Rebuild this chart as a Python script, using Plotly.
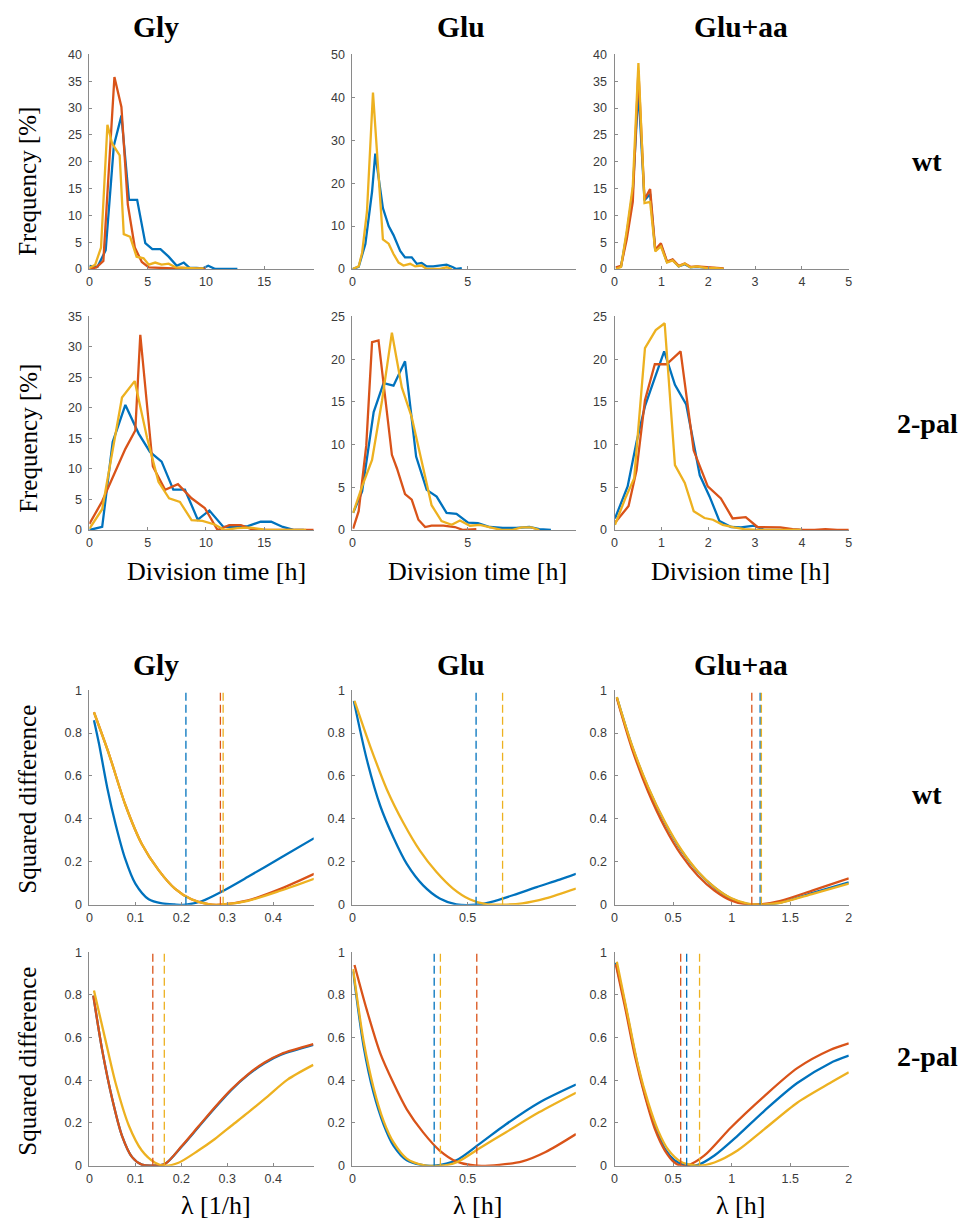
import plotly.graph_objects as go

W, H = 961, 1232
BLUE, ORANGE, YELLOW = "#0072BD", "#D95319", "#EDB120"

# ---------------- Histogram data (Division time [h], Frequency [%]) ----------------
# Gly wt
gly_wt_blue_x = [0, 0.7, 1.4, 2.1, 2.75, 3.4, 4.1, 4.8, 5.4, 6.1, 6.8, 7.5, 8.1, 8.6, 9.2, 9.7, 10.2, 10.8, 11.5, 12.1, 12.7]
gly_wt_blue_y = [0.6, 0.4, 3.5, 23, 28.6, 12.9, 12.9, 4.8, 3.7, 3.7, 2.3, 0.6, 1.2, 0.2, 0.2, 0.1, 0.6, 0, 0, 0, 0]
gly_wt_orange_x = [0, 0.6, 1.2, 2.15, 2.75, 3.3, 3.9, 4.5, 5.1, 5.8, 6.5, 7.2, 7.9, 8.6, 9.3, 10.0]
gly_wt_orange_y = [0, 0.3, 1.5, 35.8, 30.2, 12, 4, 1.3, 0.3, 0.2, 0.1, 0.1, 0.2, 0.1, 0, 0]
gly_wt_yellow_x = [0, 0.5, 1.0, 1.55, 1.95, 2.6, 2.95, 3.5, 4.05, 4.65, 5.1, 5.65, 6.2, 6.8, 7.4, 8.0, 8.6, 9.2, 9.8]
gly_wt_yellow_y = [0.2, 0.8, 4, 26.9, 23.4, 21.2, 6.5, 6.0, 2.3, 2.0, 0.8, 1.2, 0.8, 1.0, 0.3, 0.2, 0.2, 0.1, 0.1]
# Glu wt
glu_wt_blue_x = [0, 0.27, 0.56, 0.85, 0.99, 1.32, 1.57, 1.78, 2.07, 2.28, 2.57, 2.79, 3.0, 3.22, 3.5, 3.79, 4.08, 4.36, 4.5, 4.74]
glu_wt_blue_y = [0, 0.5, 5.8, 18, 26.9, 14.2, 10, 7.9, 4.2, 2.7, 2.7, 1.2, 1.4, 0.6, 0.6, 0.8, 1.0, 0.4, 0, 0.2]
glu_wt_yellow_x = [0, 0.27, 0.42, 0.63, 0.89, 1.32, 1.57, 1.78, 2.0, 2.21, 2.5, 2.72, 3.0, 3.22, 3.8, 4.08, 4.3]
glu_wt_yellow_y = [0, 0.6, 3.8, 13.4, 41.1, 6.9, 5.9, 3.5, 1.5, 0.8, 1.2, 0.6, 0.8, 0, 0, 0.4, 0]
# Glu+aa wt
glaa_wt_x = [0.03, 0.14, 0.26, 0.39, 0.51, 0.64, 0.76, 0.87, 0.99, 1.12, 1.24, 1.37, 1.5, 1.62, 1.76, 1.88, 2.0, 2.12, 2.24, 2.33]
glaa_wt_blue_y = [0.2, 0.5, 6.5, 14.5, 33.5, 12.8, 14.0, 3.4, 4.5, 1.3, 1.7, 0.5, 0.9, 0.3, 0.4, 0.3, 0.1, 0.1, 0, 0]
glaa_wt_orange_y = [0.3, 0.6, 5.5, 12.5, 37.0, 13.0, 14.9, 3.6, 4.8, 1.4, 1.8, 0.6, 1.0, 0.4, 0.5, 0.4, 0.3, 0.2, 0.1, 0.1]
glaa_wt_yellow_y = [0, 0.4, 7.1, 15.4, 38.4, 12.3, 12.5, 3.3, 4.2, 1.2, 1.6, 0.5, 1.0, 0.3, 0.5, 0.3, 0.1, 0.2, 0.1, 0]
# Gly 2-pal
gly_pal_blue_x = [0, 1.1, 2.0, 3.09, 4.23, 5.2, 6.2, 7.2, 8.2, 9.3, 10.3, 11.5, 12.6, 13.6, 14.7, 15.6, 16.6, 17.6, 18.4]
gly_pal_blue_y = [0, 0.5, 14.4, 20.5, 15.8, 12.8, 11.2, 6.6, 6.6, 1.7, 3.2, 0.5, 0.5, 0.65, 1.35, 1.35, 0.5, 0, 0]
gly_pal_orange_x = [0, 1.1, 3.09, 3.94, 4.37, 5.45, 6.5, 7.6, 8.77, 9.9, 11.0, 12.0, 13.0, 14.1, 15.2, 16.3, 17.3, 18.3, 19.25]
gly_pal_orange_y = [1.0, 4.7, 13.3, 16.3, 32, 10.4, 6.6, 7.5, 5.2, 3.6, 0, 0.8, 0.8, 0, 0, 0, 0, 0, 0]
gly_pal_yellow_x = [0, 1.1, 2.8, 3.89, 4.94, 5.93, 6.84, 7.77, 8.77, 9.7, 10.75, 11.6, 12.7, 13.8, 15.2, 16.5, 17.6, 18.6]
gly_pal_yellow_y = [0.2, 3.4, 21.7, 24.4, 15.2, 7.9, 5.2, 4.6, 1.6, 1.5, 0.9, 0, 0.3, 0.4, 0, 0, 0, 0]
# Glu 2-pal
glu_pal_blue_x = [0.03, 0.42, 0.92, 1.35, 1.78, 2.28, 2.76, 3.22, 3.65, 4.08, 4.51, 5.01, 5.44, 5.95, 6.52, 7.1, 7.67, 8.1, 8.6]
glu_pal_blue_y = [2.0, 4.5, 13.8, 17.2, 16.9, 19.75, 8.6, 4.7, 3.9, 2.0, 1.9, 0.85, 0.8, 0.35, 0.25, 0.25, 0.35, 0.1, 0]
glu_pal_orange_x = [0.03, 0.27, 0.6, 0.85, 1.13, 1.71, 1.93, 2.28, 2.57, 2.86, 3.15, 3.43, 3.94, 4.44, 4.8, 5.37]
glu_pal_orange_y = [0.15, 2.2, 9.9, 22, 22.2, 8.8, 7.2, 4.2, 3.55, 1.2, 0.35, 0.5, 0.5, 0.35, 0, 0.1]
glu_pal_yellow_x = [0.03, 0.42, 0.85, 1.28, 1.71, 2.14, 2.57, 3.0, 3.43, 3.86, 4.3, 4.66, 5.09, 5.52, 5.95, 6.45, 6.9, 7.33, 7.76, 8.1]
glu_pal_yellow_y = [2.0, 5.1, 8.2, 15.1, 23.1, 16.7, 13.2, 8.0, 2.9, 1.04, 0.6, 1.1, 0.5, 0.6, 0.35, 0, 0, 0.3, 0.3, 0]
# Glu+aa 2-pal
glaa_pal_blue_x = [0.01, 0.28, 0.47, 0.65, 0.86, 1.06, 1.29, 1.53, 1.82, 2.03, 2.24, 2.49, 2.7, 2.98, 3.2, 3.46, 3.7, 3.95]
glaa_pal_blue_y = [1.35, 5.1, 10.3, 14.5, 17.8, 20.9, 17, 14.7, 6.4, 3.9, 1.04, 0.35, 0.3, 0.5, 0, 0, 0, 0]
glaa_pal_orange_x = [0.01, 0.3, 0.47, 0.65, 0.86, 1.11, 1.41, 1.69, 1.99, 2.27, 2.52, 2.8, 3.05, 3.3, 3.54, 3.8, 4.03, 4.27, 4.5, 4.75, 5.0]
glaa_pal_orange_y = [0.85, 2.8, 7.0, 15.2, 19.4, 19.4, 20.9, 9.3, 5.1, 3.7, 1.35, 1.5, 0.35, 0.35, 0.3, 0.1, 0, 0, 0.1, 0, 0]
glaa_pal_yellow_x = [0.01, 0.23, 0.42, 0.65, 0.88, 1.07, 1.29, 1.5, 1.69, 1.92, 2.1, 2.31, 2.55, 2.77, 3.05, 3.3, 3.55, 3.8, 4.0]
glaa_pal_yellow_y = [0.6, 3.7, 6.05, 21.3, 23.4, 24.2, 7.6, 5.5, 2.2, 1.4, 1.2, 0.6, 0.3, 0.1, 0, 0, 0, 0, 0]

# ---------------- Squared difference curves (lambda, squared difference) ----------------
# Gly wt
sq_gly_wt_blue_x = [0.01, 0.021, 0.039, 0.057, 0.078, 0.1, 0.129, 0.158, 0.185, 0.21, 0.244, 0.287, 0.345, 0.417, 0.489]
sq_gly_wt_blue_y = [0.86, 0.75, 0.544, 0.375, 0.213, 0.098, 0.025, 0.006, 0.001, 0.0, 0.016, 0.06, 0.13, 0.22, 0.31]
sq_gly_wt_oy_x = [0.01, 0.043, 0.078, 0.114, 0.151, 0.186, 0.222, 0.259, 0.285, 0.345, 0.417, 0.489]
sq_gly_wt_orange_y = [0.897, 0.70, 0.467, 0.283, 0.16, 0.075, 0.025, 0.002, 0.0, 0.02, 0.075, 0.144]
sq_gly_wt_yellow_y = [0.897, 0.70, 0.467, 0.283, 0.16, 0.075, 0.025, 0.002, 0.0, 0.018, 0.066, 0.121]
# Glu wt
sq_glu_wt_blue_x = [0.006, 0.063, 0.121, 0.178, 0.236, 0.307, 0.379, 0.451, 0.537, 0.6, 0.7, 0.8, 0.9, 0.971]
sq_glu_wt_blue_y = [0.95, 0.674, 0.46, 0.313, 0.19, 0.09, 0.029, 0.002, 0.0, 0.012, 0.045, 0.082, 0.117, 0.144]
sq_glu_wt_yellow_x = [0.009, 0.078, 0.15, 0.221, 0.293, 0.365, 0.437, 0.509, 0.58, 0.652, 0.738, 0.839, 0.971]
sq_glu_wt_yellow_y = [0.95, 0.736, 0.536, 0.382, 0.252, 0.152, 0.075, 0.025, 0.002, 0.0, 0.006, 0.029, 0.075]
# Glu+aa wt
sq_glaa_wt_x = [0.02, 0.147, 0.288, 0.43, 0.57, 0.712, 0.853, 0.994, 1.136, 1.25, 1.418, 1.7, 2.0]
sq_glaa_wt_blue_y = [0.966, 0.743, 0.544, 0.382, 0.252, 0.152, 0.08, 0.029, 0.004, 0.0, 0.01, 0.056, 0.104]
sq_glaa_wt_orange_y = [0.962, 0.73, 0.525, 0.36, 0.232, 0.135, 0.066, 0.02, 0.001, 0.002, 0.018, 0.068, 0.123]
sq_glaa_wt_yellow_y = [0.968, 0.746, 0.548, 0.386, 0.256, 0.155, 0.082, 0.031, 0.005, 0.0, 0.009, 0.052, 0.098]
# Gly 2-pal
sq_gly_pal_bo_x = [0.0086, 0.028, 0.05, 0.071, 0.093, 0.114, 0.138, 0.165, 0.201, 0.237, 0.273, 0.309, 0.345, 0.381, 0.417, 0.487]
sq_gly_pal_blue_y = [0.796, 0.54, 0.31, 0.14, 0.04, 0.005, 0.0, 0.009, 0.09, 0.18, 0.27, 0.355, 0.425, 0.48, 0.52, 0.566]
sq_gly_pal_orange_y = [0.796, 0.54, 0.31, 0.14, 0.04, 0.005, 0.0, 0.009, 0.092, 0.183, 0.274, 0.358, 0.428, 0.483, 0.523, 0.569]
sq_gly_pal_yellow_x = [0.01, 0.035, 0.057, 0.086, 0.114, 0.143, 0.163, 0.194, 0.237, 0.273, 0.309, 0.345, 0.388, 0.431, 0.487]
sq_gly_pal_yellow_y = [0.82, 0.588, 0.387, 0.187, 0.071, 0.014, 0.0, 0.014, 0.071, 0.125, 0.187, 0.248, 0.325, 0.403, 0.472]
# Glu 2-pal
sq_glu_pal_blue_x = [0.003, 0.049, 0.092, 0.135, 0.178, 0.236, 0.307, 0.355, 0.451, 0.552, 0.667, 0.81, 0.971]
sq_glu_pal_blue_y = [0.91, 0.556, 0.34, 0.194, 0.094, 0.025, 0.002, 0.0, 0.025, 0.102, 0.194, 0.295, 0.38]
sq_glu_pal_orange_x = [0.009, 0.063, 0.121, 0.178, 0.236, 0.307, 0.379, 0.451, 0.54, 0.638, 0.738, 0.839, 0.971]
sq_glu_pal_orange_y = [0.94, 0.727, 0.526, 0.387, 0.264, 0.156, 0.071, 0.02, 0.0, 0.004, 0.02, 0.064, 0.148]
sq_glu_pal_yellow_x = [0.003, 0.049, 0.092, 0.135, 0.178, 0.236, 0.307, 0.382, 0.451, 0.552, 0.667, 0.81, 0.971]
sq_glu_pal_yellow_y = [0.92, 0.58, 0.364, 0.21, 0.11, 0.033, 0.003, 0.0, 0.015, 0.082, 0.157, 0.25, 0.342]
# Glu+aa 2-pal
sq_glaa_pal_orange_x = [0.011, 0.09, 0.175, 0.26, 0.345, 0.43, 0.514, 0.565, 0.627, 0.768, 0.994, 1.277, 1.56, 1.84, 2.0]
sq_glaa_pal_orange_y = [0.943, 0.742, 0.511, 0.325, 0.171, 0.071, 0.014, 0.0, 0.002, 0.048, 0.179, 0.325, 0.457, 0.542, 0.573]
sq_glaa_pal_blue_x = [0.011, 0.09, 0.175, 0.26, 0.345, 0.43, 0.514, 0.6, 0.616, 0.712, 0.853, 1.05, 1.277, 1.56, 1.84, 2.0]
sq_glaa_pal_blue_y = [0.95, 0.757, 0.526, 0.333, 0.187, 0.079, 0.025, 0.002, 0.0, 0.004, 0.048, 0.14, 0.256, 0.387, 0.48, 0.515]
sq_glaa_pal_yellow_x = [0.02, 0.119, 0.203, 0.288, 0.373, 0.458, 0.57, 0.684, 0.726, 0.853, 1.05, 1.277, 1.56, 1.84, 2.0]
sq_glaa_pal_yellow_y = [0.955, 0.688, 0.464, 0.295, 0.163, 0.075, 0.017, 0.001, 0.0, 0.015, 0.071, 0.17, 0.295, 0.387, 0.437]

# Fitted lambda (dashed vertical lines): (value, colour) per panel
fit_gly_wt = [(0.21, BLUE), (0.285, ORANGE), (0.291, YELLOW)]
fit_glu_wt = [(0.537, BLUE), (0.652, YELLOW)]
fit_glaa_wt = [(1.172, ORANGE), (1.243, BLUE), (1.254, YELLOW)]
fit_gly_pal = [(0.138, ORANGE), (0.163, YELLOW)]
fit_glu_pal = [(0.355, BLUE), (0.382, YELLOW), (0.54, ORANGE)]
fit_glaa_pal = [(0.565, ORANGE), (0.616, BLUE), (0.726, YELLOW)]

col_titles = ["Gly", "Glu", "Glu+aa"]
row_labels = ["wt", "2-pal"]

# ---------------- Layout geometry (pixels) ----------------
COLS = [(87, 313), (352, 577), (616, 852)]
ROWS = [(48, 265), (313, 529), (691, 908), (956, 1172)]
TITLE_X = [154, 461, 743]
XLABEL_X = [215, 478, 743]

hist_xrange = [[0, 19.25], [0, 9.68], [0, 5]]
hist_xticks = [[0, 5, 10, 15], [0, 5], [0, 1, 2, 3, 4, 5]]
hist_yrange = [[[0, 40], [0, 50], [0, 40]], [[0, 35], [0, 25], [0, 25]]]
hist_ydtick = [[5, 10, 5], [5, 5, 5]]
sq_xrange = [[0, 0.488], [0, 0.97], [0, 2]]
sq_xticks = [[0, 0.1, 0.2, 0.3, 0.4], [0, 0.5], [0, 0.5, 1, 1.5, 2]]

fig = go.Figure()
layout = {}
AXC = "#8a8a8a"
TICKFONT = dict(family="Liberation Sans, Arial", size=12.5, color="#3a3a3a")


def add_axes(idx, r, c, xr, xticks, yr, ydtick):
    x0, x1 = COLS[c]
    y0, y1 = ROWS[r]
    sfx = "" if idx == 1 else str(idx)
    layout["xaxis" + sfx] = dict(
        domain=[x0 / W, x1 / W], range=xr, anchor="y" + sfx,
        tickmode="array", tickvals=xticks, ticks="inside", ticklen=3, tickcolor=AXC,
        showline=True, linecolor=AXC, linewidth=1, showgrid=False, zeroline=False,
        tickfont=TICKFONT, fixedrange=True, ticklabelstandoff=1,
    )
    layout["yaxis" + sfx] = dict(
        domain=[1 - y1 / H, 1 - y0 / H], range=yr, anchor="x" + sfx,
        dtick=ydtick, tick0=0, ticks="inside", ticklen=3, tickcolor=AXC,
        showline=True, linecolor=AXC, linewidth=1, showgrid=False, zeroline=False,
        tickfont=TICKFONT, fixedrange=True, ticklabelstandoff=4,
    )
    return "x" + sfx, "y" + sfx


def line(xa, ya, xs, ys, color, spline=False, width=2.3, dash=None):
    fig.add_trace(go.Scatter(
        x=xs, y=ys, mode="lines", xaxis=xa, yaxis=ya, showlegend=False,
        line=dict(color=color, width=width, shape="spline" if spline else "linear",
                  smoothing=0.8, dash=dash),
        hoverinfo="skip"))


hist_panels = [
    [[(gly_wt_blue_x, gly_wt_blue_y, BLUE), (gly_wt_orange_x, gly_wt_orange_y, ORANGE), (gly_wt_yellow_x, gly_wt_yellow_y, YELLOW)],
     [(glu_wt_blue_x, glu_wt_blue_y, BLUE), (glu_wt_yellow_x, glu_wt_yellow_y, YELLOW)],
     [(glaa_wt_x, glaa_wt_blue_y, BLUE), (glaa_wt_x, glaa_wt_orange_y, ORANGE), (glaa_wt_x, glaa_wt_yellow_y, YELLOW)]],
    [[(gly_pal_blue_x, gly_pal_blue_y, BLUE), (gly_pal_orange_x, gly_pal_orange_y, ORANGE), (gly_pal_yellow_x, gly_pal_yellow_y, YELLOW)],
     [(glu_pal_blue_x, glu_pal_blue_y, BLUE), (glu_pal_orange_x, glu_pal_orange_y, ORANGE), (glu_pal_yellow_x, glu_pal_yellow_y, YELLOW)],
     [(glaa_pal_blue_x, glaa_pal_blue_y, BLUE), (glaa_pal_orange_x, glaa_pal_orange_y, ORANGE), (glaa_pal_yellow_x, glaa_pal_yellow_y, YELLOW)]],
]
sq_panels = [
    [[(sq_gly_wt_blue_x, sq_gly_wt_blue_y, BLUE), (sq_gly_wt_oy_x, sq_gly_wt_orange_y, ORANGE), (sq_gly_wt_oy_x, sq_gly_wt_yellow_y, YELLOW)],
     [(sq_glu_wt_blue_x, sq_glu_wt_blue_y, BLUE), (sq_glu_wt_yellow_x, sq_glu_wt_yellow_y, YELLOW)],
     [(sq_glaa_wt_x, sq_glaa_wt_blue_y, BLUE), (sq_glaa_wt_x, sq_glaa_wt_orange_y, ORANGE), (sq_glaa_wt_x, sq_glaa_wt_yellow_y, YELLOW)]],
    [[(sq_gly_pal_bo_x, sq_gly_pal_blue_y, BLUE), (sq_gly_pal_bo_x, sq_gly_pal_orange_y, ORANGE), (sq_gly_pal_yellow_x, sq_gly_pal_yellow_y, YELLOW)],
     [(sq_glu_pal_blue_x, sq_glu_pal_blue_y, BLUE), (sq_glu_pal_orange_x, sq_glu_pal_orange_y, ORANGE), (sq_glu_pal_yellow_x, sq_glu_pal_yellow_y, YELLOW)],
     [(sq_glaa_pal_blue_x, sq_glaa_pal_blue_y, BLUE), (sq_glaa_pal_orange_x, sq_glaa_pal_orange_y, ORANGE), (sq_glaa_pal_yellow_x, sq_glaa_pal_yellow_y, YELLOW)]],
]
fits = [[fit_gly_wt, fit_glu_wt, fit_glaa_wt], [fit_gly_pal, fit_glu_pal, fit_glaa_pal]]

idx = 1
for r in range(2):
    for c in range(3):
        xa, ya = add_axes(idx, r, c, hist_xrange[c], hist_xticks[c], hist_yrange[r][c], hist_ydtick[r][c])
        for xs, ys, col in hist_panels[r][c]:
            line(xa, ya, xs, ys, col)
        idx += 1
for r in range(2):
    for c in range(3):
        xa, ya = add_axes(idx, r + 2, c, sq_xrange[c], sq_xticks[c], [0, 1], 0.2)
        for xs, ys, col in sq_panels[r][c]:
            line(xa, ya, xs, ys, col, spline=True)
        for v, col in fits[r][c]:
            line(xa, ya, [v, v], [0, 1], col, width=1.3, dash="8px,4px")
        idx += 1

SERIF = "Liberation Serif, Times New Roman, serif"
ann = []


def text(x, y, s, size, bold=False, angle=0):
    ann.append(dict(x=x / W, y=1 - y / H, xref="paper", yref="paper", text=("<b>%s</b>" % s) if bold else s,
                    showarrow=False, textangle=angle, xanchor="center", yanchor="middle",
                    font=dict(family=SERIF, size=size, color="black")))


for c in range(3):
    text(TITLE_X[c], 20, col_titles[c], 29.5, bold=True)
    text(TITLE_X[c], 666, col_titles[c], 29.5, bold=True)
    text(XLABEL_X[c], 571, "Division time [h]", 26)
text(931, 156, row_labels[0], 28, bold=True)
text(931, 421, row_labels[1], 28, bold=True)
text(931, 797, row_labels[0], 28, bold=True)
text(931, 1062, row_labels[1], 28, bold=True)
text(25, 176, "Frequency [%]", 25, angle=-90)
text(25, 436, "Frequency [%]", 25, angle=-90)
text(25, 801, "Squared difference", 25, angle=-90)
text(25, 1066, "Squared difference", 25, angle=-90)
text(XLABEL_X[0], 1212, "λ [1/h]", 26)
text(XLABEL_X[1], 1212, "λ [h]", 26)
text(XLABEL_X[2], 1212, "λ [h]", 26)

fig.update_layout(width=W, height=H, margin=dict(l=0, r=0, t=0, b=0),
                  paper_bgcolor="white", plot_bgcolor="white", annotations=ann, **layout)
fig.write_html("out.html", config={"displayModeBar": False},
               post_script="document.body.style.margin='0px';document.body.style.overflow='hidden';")
